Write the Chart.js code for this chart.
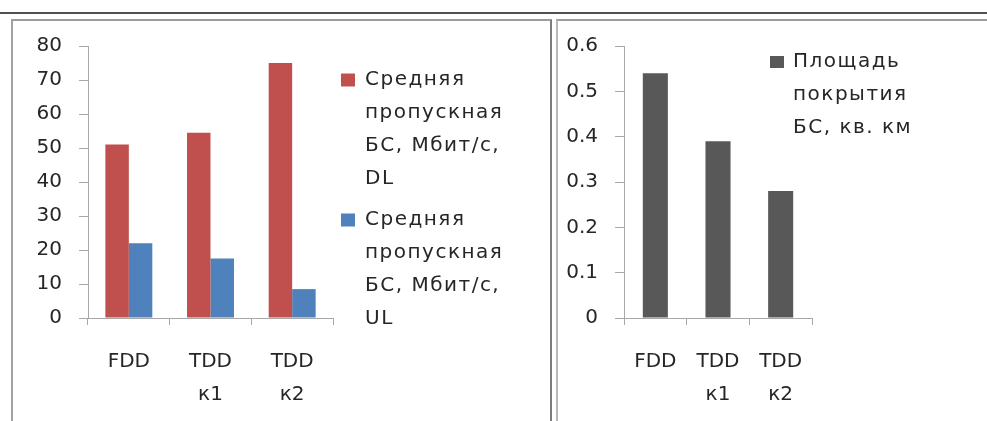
<!DOCTYPE html>
<html>
<head>
<meta charset="utf-8">
<title>FDD / TDD</title>
<script src="https://cdn.jsdelivr.net/npm/chart.js@4.4.1/dist/chart.umd.min.js"></script>
<style>
  html, body { margin: 0; padding: 0; background: #ffffff; }
  #page { position: relative; width: 987px; height: 421px; overflow: hidden; background: #ffffff; }
  .rule { position: absolute; left: 0; top: 12px; width: 987px; height: 2px; background: #505050; }
  .panel { position: absolute; top: 19px; height: 420px; box-sizing: border-box; }
  #panelLeft { left: 11px; width: 541px; border-left: 2px solid #a2a2a2; border-top: 2px solid #9c9c9c; border-right: 2px solid #7c7c7c; }
  #panelRight { left: 556px; width: 440px; border-left: 2px solid #b8b8b8; border-top: 2px solid #9c9c9c; }
  canvas { position: absolute; top: 0; }
  #speedChart { left: 0; }
  #areaChart { left: 557px; }
</style>
</head>
<body>
<div id="page">
  <div class="rule"></div>
  <div class="panel" id="panelLeft"></div>
  <div class="panel" id="panelRight"></div>
  <canvas id="speedChart" width="548" height="421"></canvas>
  <canvas id="areaChart" width="430" height="421"></canvas>
</div>
<script>
// Duplex schemes on the category axis (multi-line labels)
const categories = [['FDD'], ['TDD', 'к1'], ['TDD', 'к2']];

// Average base-station throughput, Mbit/s
const downlink = [51, 54.5, 75];
const uplink = [22, 17.5, 8.5];

// Base-station coverage area, sq. km
const coverage = [0.54, 0.39, 0.28];

// Series names, split into lines
const downlinkName = ['Средняя', 'пропускная', 'БС, Мбит/с,', 'DL'];
const uplinkName = ['Средняя', 'пропускная', 'БС, Мбит/с,', 'UL'];
const coverageName = ['Площадь', 'покрытия', 'БС, кв. км'];

// Value-axis tick labels
const speedTickLabels = ['0', '10', '20', '30', '40', '50', '60', '70', '80'];
const areaTickLabels = ['0', '0.1', '0.2', '0.3', '0.4', '0.5', '0.6'];

const FONT = '"DejaVu Sans", "Liberation Sans", sans-serif';
const TEXT = '#262626';
const AXIS = '#a8a8a8';
const LEGEND_WIDTH = 180;

// Legend: fixed box width and slightly spaced-out text
const LegendElement = Chart.registry.getPlugin('legend')._element;
const legendFit = LegendElement.prototype.fit;
LegendElement.prototype.fit = function () {
  legendFit.call(this);
  if (!this.isHorizontal()) {
    this.width = LEGEND_WIDTH;
  }
};
const legendDraw = LegendElement.prototype.draw;
LegendElement.prototype.draw = function () {
  const ctx = this.ctx;
  const prev = ctx.letterSpacing;
  ctx.letterSpacing = '1.5px';
  legendDraw.call(this);
  ctx.letterSpacing = prev;
};

function valueAxis(min, max, step, labels) {
  return {
    min: min,
    max: max,
    afterFit(scale) { scale.width = 60; },
    border: { display: true, color: AXIS, width: 1 },
    grid: { drawOnChartArea: false, drawTicks: true, tickLength: 9, color: AXIS },
    ticks: {
      stepSize: step,
      padding: 17,
      color: TEXT,
      font: { family: FONT, size: 20 },
      callback: (v, i) => labels[i]
    }
  };
}

function categoryAxis() {
  return {
    afterFit(scale) { scale.height = 103; },
    border: { display: true, color: AXIS, width: 1 },
    grid: { drawOnChartArea: false, drawTicks: true, tickLength: 7, color: AXIS, offset: true },
    ticks: {
      padding: 20,
      color: TEXT,
      maxRotation: 0,
      autoSkip: false,
      font: { family: FONT, size: 20, lineHeight: 1.65 }
    }
  };
}

// Left chart: throughput DL / UL
new Chart(document.getElementById('speedChart'), {
  type: 'bar',
  data: {
    labels: categories,
    datasets: [
      { label: downlinkName, data: downlink, backgroundColor: '#C0504D', borderWidth: 0,
        categoryPercentage: 0.575, barPercentage: 1 },
      { label: uplinkName, data: uplink, backgroundColor: '#4F81BD', borderWidth: 0,
        categoryPercentage: 0.575, barPercentage: 1 }
    ]
  },
  options: {
    responsive: false,
    animation: false,
    layout: { padding: { top: 46, left: 28, right: 548 - 333 - LEGEND_WIDTH, bottom: 0 } },
    scales: {
      x: categoryAxis(),
      y: valueAxis(0, 80, 10, speedTickLabels)
    },
    plugins: {
      tooltip: { enabled: false },
      legend: {
        position: 'right',
        align: 'start',
        title: { display: true, text: '', padding: { top: 15, bottom: 0 }, font: { size: 1, lineHeight: 1 } },
        labels: {
          boxWidth: 14,
          boxHeight: 13,
          padding: 8,
          color: TEXT,
          font: { family: FONT, size: 20, lineHeight: 1.65 }
        }
      }
    }
  }
});

// Key for the coverage chart, drawn at the top right of its plot area
const coverageKey = {
  id: 'coverageKey',
  afterDraw(chart, args, opts) {
    const { ctx, chartArea } = chart;
    const ds = chart.data.datasets[0];
    const x = chartArea.right + opts.dx;
    const y = chartArea.top + opts.dy;
    ctx.save();
    ctx.fillStyle = ds.backgroundColor;
    ctx.fillRect(x, y, 14, 12);
    ctx.font = '20px ' + FONT;
    ctx.letterSpacing = '1.5px';
    ctx.fillStyle = TEXT;
    ctx.textBaseline = 'middle';
    ctx.textAlign = 'left';
    ds.label.forEach((line, i) => ctx.fillText(line, x + 23, y + 6 + i * 33));
    ctx.restore();
  }
};

// Right chart: coverage area
new Chart(document.getElementById('areaChart'), {
  type: 'bar',
  data: {
    labels: categories,
    datasets: [
      { label: coverageName, data: coverage, backgroundColor: '#585858', borderWidth: 0,
        categoryPercentage: 0.4, barPercentage: 1 }
    ]
  },
  options: {
    responsive: false,
    animation: false,
    layout: { padding: { top: 46, left: 7, right: 175, bottom: 0 } },
    scales: {
      x: categoryAxis(),
      y: valueAxis(0, 0.6, 0.1, areaTickLabels)
    },
    plugins: {
      tooltip: { enabled: false },
      legend: { display: false },
      coverageKey: { dx: -42, dy: 10 }
    }
  },
  plugins: [coverageKey]
});
</script>
</body>
</html>
